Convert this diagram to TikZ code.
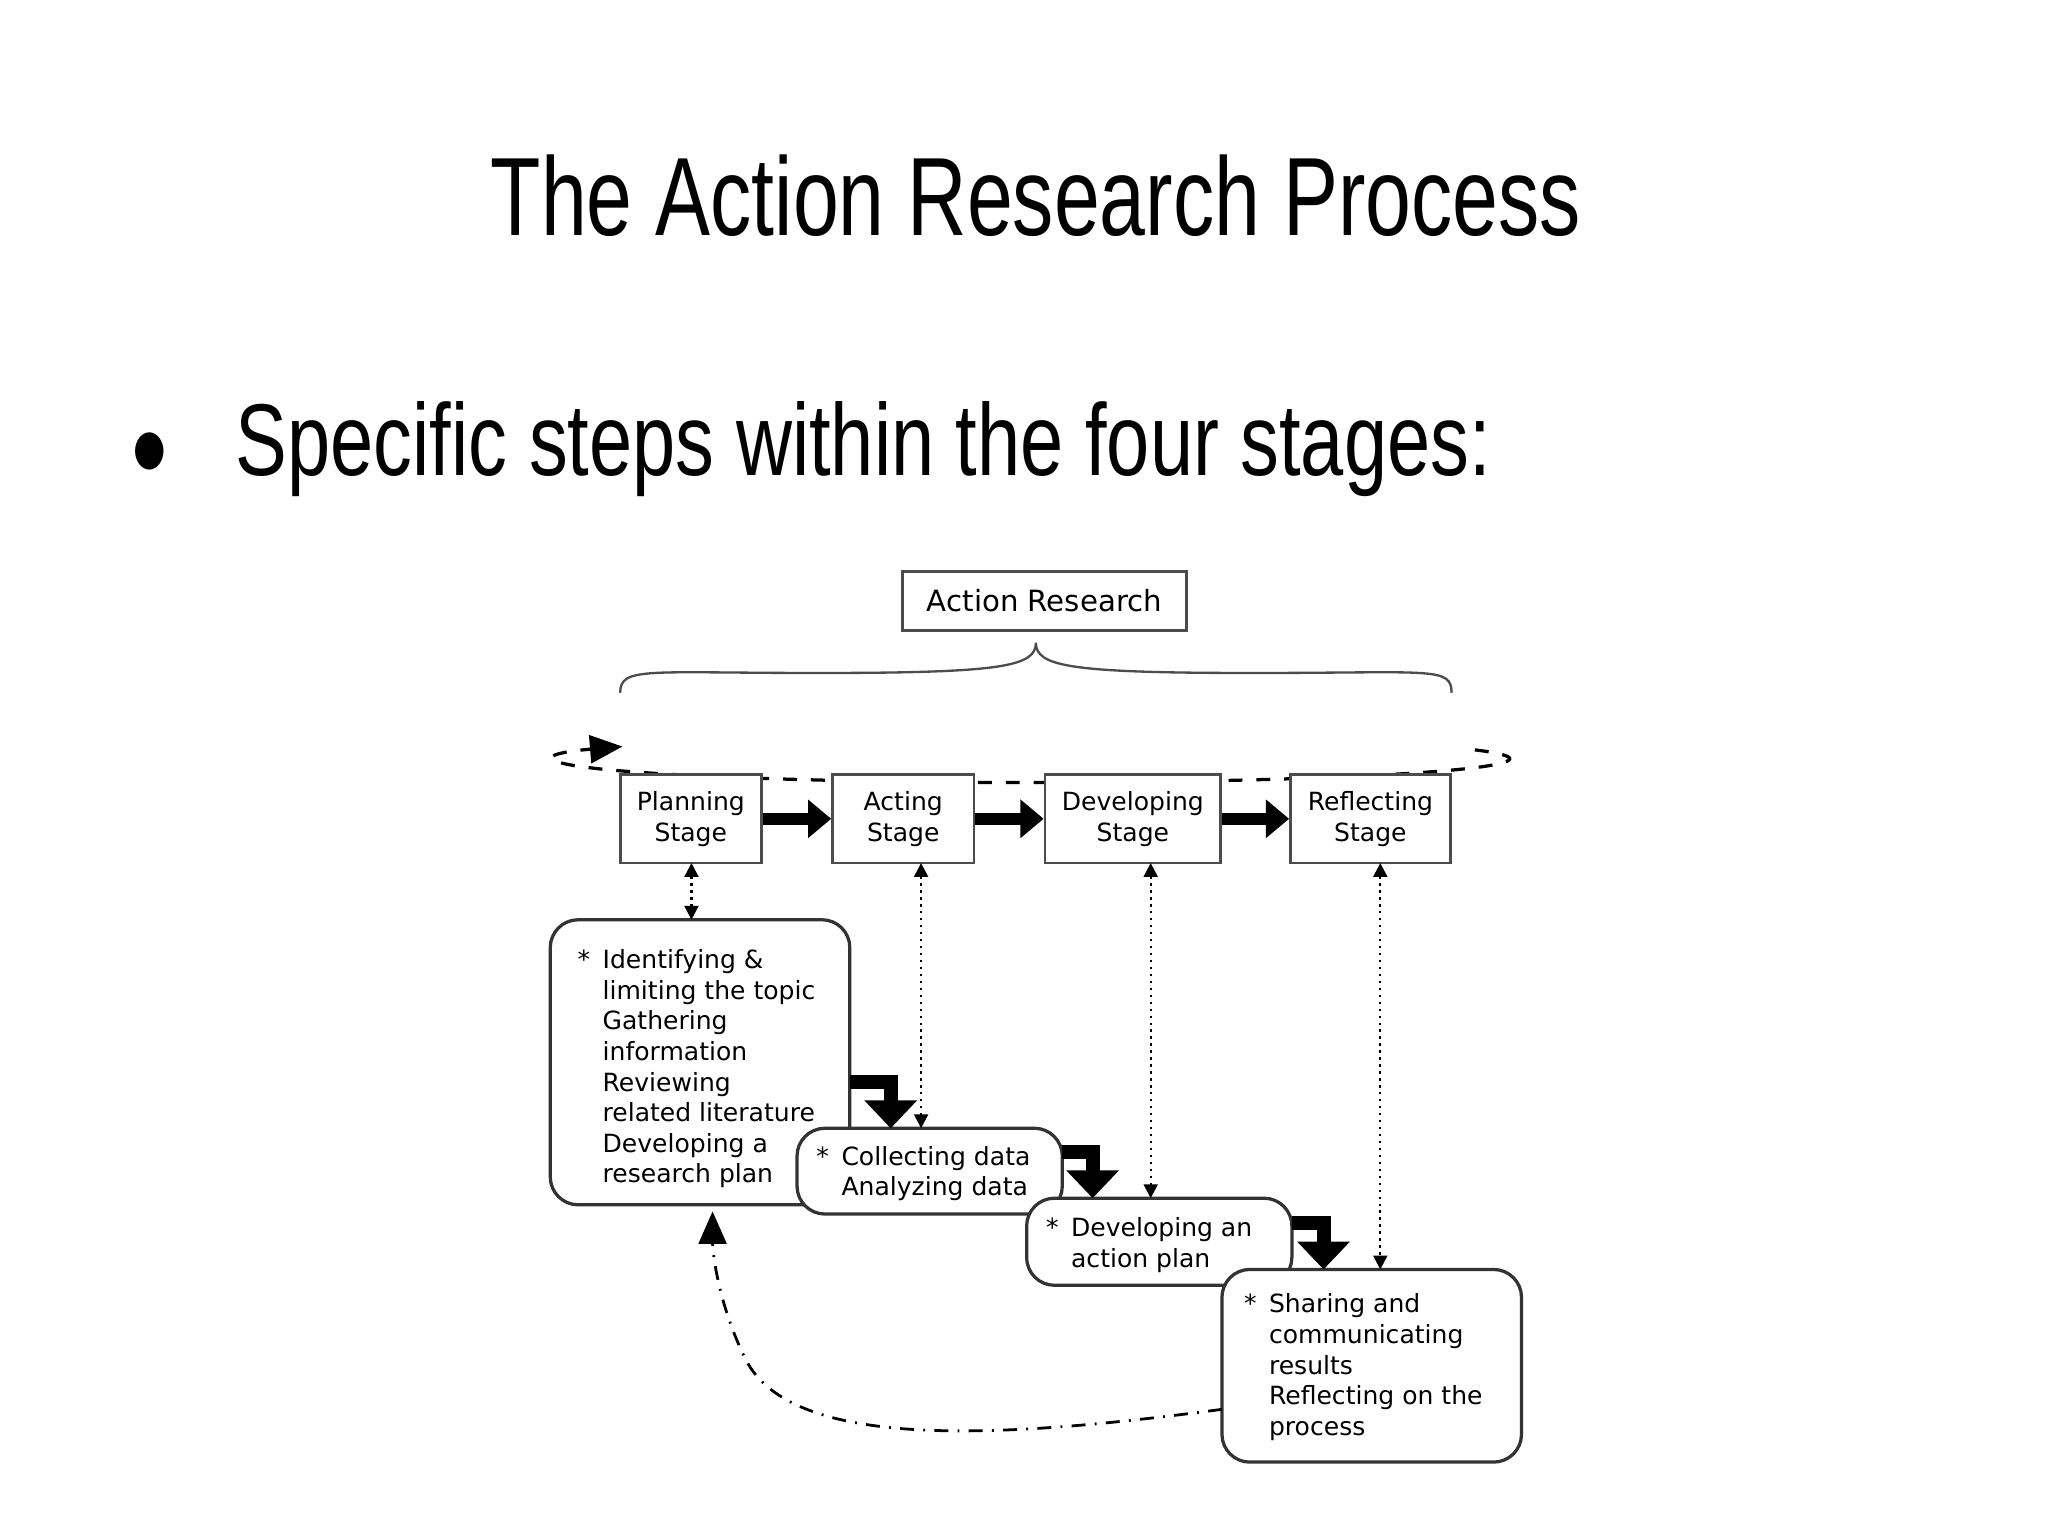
\documentclass[tikz,border=0pt]{standalone}
\usepackage{fontspec}
\setmainfont{Liberation Sans}
\newfontfamily\djfont{DejaVu Sans}
\usetikzlibrary{arrows.meta}
\begin{document}
\begin{tikzpicture}[x=0.01cm,y=-0.01cm,
  sbox/.style={draw=black!70,line width=0.6pt,minimum height=0.67cm,align=center,font=\djfont\fontsize{5.4}{6.6}\selectfont,inner sep=0pt},
  rbox/.style={draw=black!80,line width=0.7pt,rounded corners=6pt},
  tx/.style={font=\djfont\fontsize{5.4}{6.6}\selectfont,align=left,anchor=north west,inner sep=0pt},
  thick arr/.style={line width=2.6pt,-{Triangle[length=5pt,width=8pt]}},
  dotarr/.style={densely dotted,line width=0.5pt,{Triangle[length=3pt,width=3pt]}-{Triangle[length=3pt,width=3pt]}},
  elb/.style={line width=3pt,-{Triangle[length=6pt,width=11pt]}}]
\useasboundingbox (0,0) rectangle (1552,1164);
\node[font=\fontsize{24}{28}\selectfont,xscale=0.74,transform shape] (title) at (785,148) {The Action Research Process};
\node[font=\fontsize{22}{26}\selectfont,xscale=0.76,transform shape,anchor=west] (bul) at (90,340) {$\bullet$\hspace{0.6em} Specific steps within the four stages:};
% top box and brace
\node[sbox,minimum width=2.15cm,minimum height=0.45cm,font=\djfont\fontsize{6.3}{7}\selectfont] (ar) at (791.5,455.5) {Action Research};
\draw[line width=0.5pt,black!70] (470,525) .. controls (470,505) and (490,510) .. (620,510) .. controls (760,510) and (785,505) .. (785,487) .. controls (785,505) and (810,510) .. (950,510) .. controls (1085,510) and (1100,505) .. (1100,525);
% dashed ellipse
\draw[dashed,line width=0.7pt,-{Triangle[length=7pt,width=6pt]}] (782,575) ++(-22:362 and 18) arc[start angle=-22,end angle=211,x radius=362,y radius=18];
% stage boxes
\node[sbox,fill=white,minimum width=1.07cm] (pl) at (523.5,620.5) {Planning\\Stage};
\node[sbox,fill=white,minimum width=1.07cm] (ac) at (684.5,620.5) {Acting\\Stage};
\node[sbox,fill=white,minimum width=1.33cm] (dv) at (858.5,620.5) {Developing\\Stage};
\node[sbox,fill=white,minimum width=1.21cm] (rf) at (1038.5,620.5) {Reflecting\\Stage};
\draw[thick arr] (pl.east) -- (ac.west);
\draw[thick arr] (ac.east) -- (dv.west);
\draw[thick arr] (dv.east) -- (rf.west);
% rounded boxes
\draw[rbox] (417,697) rectangle (644,913);
\draw[rbox,fill=white] (604,855) rectangle (805,920);
\draw[rbox,fill=white] (778,908) rectangle (979,974);
\draw[rbox,fill=white] (926,962) rectangle (1153,1108);
\coordinate (Atop) at (524,697); \coordinate (Btop) at (698,855);
\coordinate (Ctop) at (872,908); \coordinate (Dtop) at (1046,962);
\draw[dotarr] (524,654) -- (Atop);
\draw[dotarr] (698,654) -- (Btop);
\draw[dotarr] (872,654) -- (Ctop);
\draw[dotarr] (1046,654) -- (Dtop);
% elbows
\draw[elb] (644,820) -- (675,820) -- (675,855);
\draw[elb] (805,873) -- (828,873) -- (828,908);
\draw[elb] (979,927) -- (1003,927) -- (1003,962);
% texts
\node[tx] (ta) at (437,717) {\begin{tabular}{@{}l@{\hspace{0.5em}}l@{}}*&Identifying \&\\&limiting the topic\\*&Gathering\\&information\\*&Reviewing\\&related literature\\*&Developing a\\&research plan\end{tabular}};
\node[tx] (tb) at (618,866) {\begin{tabular}{@{}l@{\hspace{0.5em}}l@{}}*&Collecting data\\*&Analyzing data\end{tabular}};
\node[tx] (tc) at (792,920) {\begin{tabular}{@{}l@{\hspace{0.5em}}l@{}}*&Developing an\\&action plan\end{tabular}};
\node[tx] (td) at (942,978) {\begin{tabular}{@{}l@{\hspace{0.5em}}l@{}}*&Sharing and\\&communicating\\&results\\*&Reflecting on the\\&process\end{tabular}};
% return arrow
\draw[dash dot,line width=0.6pt,-{Triangle[length=7pt,width=6pt]}] (926,1068) .. controls (760,1090) and (600,1100) .. (565,1030) .. controls (545,990) and (540,950) .. (540,918);
\end{tikzpicture}
\end{document}
